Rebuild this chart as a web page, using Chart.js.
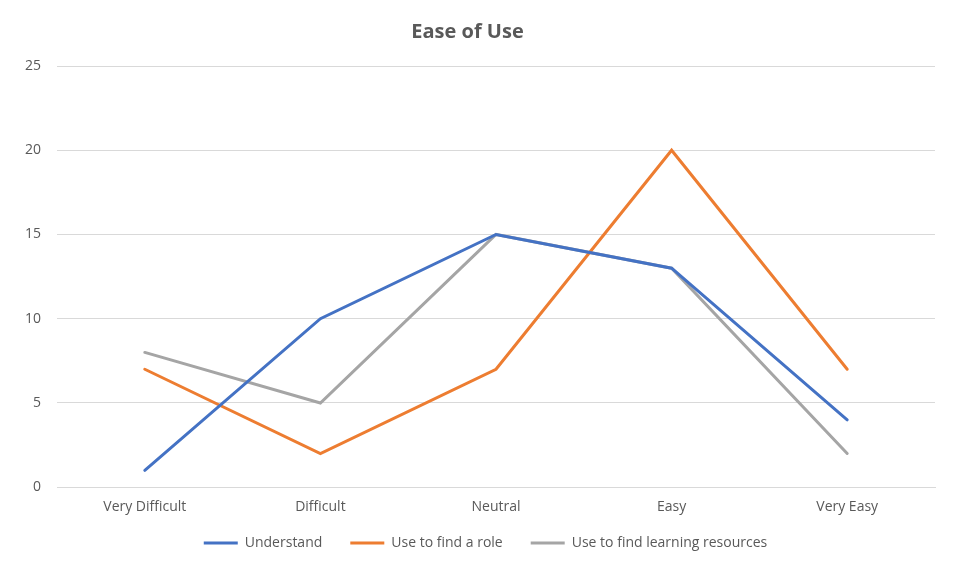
<!DOCTYPE html>
<html>
<head>
<meta charset="utf-8">
<script src="https://cdn.jsdelivr.net/npm/chart.js@4/dist/chart.umd.min.js"></script>
<style>
  body { margin: 0; background: #fff; }
  #wrap { width: 972px; height: 578px; }
</style>
</head>
<body>
<div id="wrap"><canvas id="easeChart"></canvas></div>
<script>
const categories = ["Very Difficult", "Difficult", "Neutral", "Easy", "Very Easy"];
const understand = [1, 10, 15, 13, 4];
const findRole = [7, 2, 7, 20, 7];
const learningResources = [8, 5, 15, 13, 2];

const textColor = "#595959";
const fontFamily = "'Open Sans', 'Liberation Sans', sans-serif";

// legend padding is wide for item spacing, so pull the legend up a bit
// and centre it on the page rather than the padded box
const legendLift = {
  id: "legendLift",
  afterLayout(chart) {
    const lg = chart.legend;
    lg.top -= 18;
    lg.bottom -= 18;
    lg.left += 18;
    lg.right += 18;
  },
};

new Chart(document.getElementById("easeChart"), {
  type: "line",
  data: {
    labels: categories,
    datasets: [
      {
        label: "Understand",
        data: understand,
        borderColor: "#4472C4",
        backgroundColor: "#4472C4",
        borderWidth: 3,
      },
      {
        label: "Use to find a role",
        data: findRole,
        borderColor: "#ED7D31",
        backgroundColor: "#ED7D31",
        borderWidth: 3,
      },
      {
        label: "Use to find learning resources",
        data: learningResources,
        borderColor: "#A5A5A5",
        backgroundColor: "#A5A5A5",
        borderWidth: 3,
      },
    ],
  },
  plugins: [legendLift],
  options: {
    responsive: true,
    maintainAspectRatio: false,
    animation: false,
    layout: { padding: { top: 20, right: 37, bottom: 0, left: 0 } },
    elements: {
      line: { tension: 0, borderCapStyle: "round" },
      point: { radius: 0 },
    },
    plugins: {
      title: {
        display: true,
        text: "Ease of Use",
        color: textColor,
        font: { family: fontFamily, size: 20, weight: "bold" },
        padding: { top: 0, bottom: 22 },
      },
      legend: {
        position: "bottom",
        labels: {
          color: textColor,
          font: { family: fontFamily, size: 14 },
          usePointStyle: true,
          pointStyle: "line",
          pointStyleWidth: 34,
          padding: 28,
        },
      },
      tooltip: { enabled: false },
    },
    scales: {
      x: {
        offset: true,
        grid: { display: false, drawTicks: false },
        border: { color: "#d9d9d9", width: 1 },
        ticks: {
          color: textColor,
          font: { family: fontFamily, size: 14 },
          padding: 11,
          maxRotation: 0,
        },
      },
      y: {
        min: 0,
        max: 25,
        grid: { color: "#d9d9d9", drawTicks: false },
        border: { display: false },
        ticks: {
          stepSize: 5,
          color: textColor,
          font: { family: fontFamily, size: 14 },
          padding: 16,
        },
        afterFit: (scale) => {
          scale.width = 57;
        },
      },
    },
  },
});
</script>
</body>
</html>
